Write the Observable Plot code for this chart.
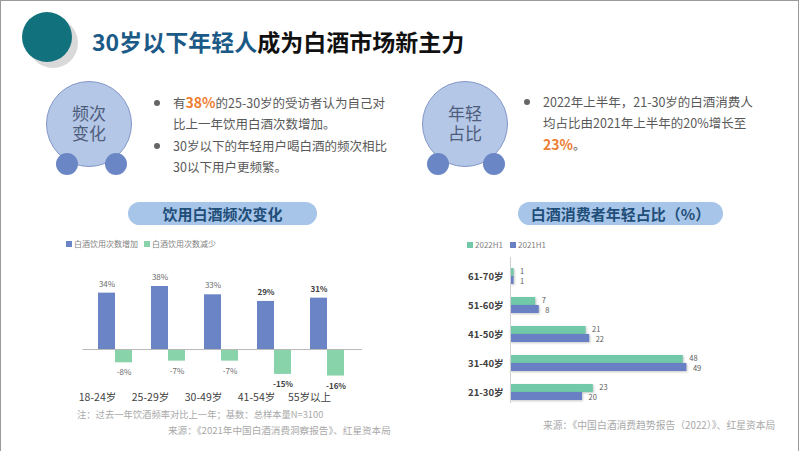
<!DOCTYPE html>
<html><head><meta charset="utf-8">
<script src="https://cdn.jsdelivr.net/npm/d3@7"></script>
<script src="https://cdn.jsdelivr.net/npm/@observablehq/plot@0.6"></script>
<style>
body{margin:0;background:#fff;font-family:"Noto Sans CJK SC","Noto Sans",sans-serif;}
#slide{position:relative;width:802px;height:451px;overflow:hidden;background:#fff;}
.abs{position:absolute;}
.frame{left:0;top:0;width:799px;height:460px;border:1px solid #9a9a9a;box-sizing:border-box;}
.circ{position:absolute;border-radius:50%;}
.big{width:86px;height:86px;background:#b4c7e7;border:1px solid #8296c8;box-sizing:border-box;}
.small{width:22px;height:22px;background:#6a86c4;}
.ctext{position:absolute;width:86px;text-align:center;font-size:17px;line-height:18px;height:18px;color:#4f5d7c;}
.dot{position:absolute;width:6px;height:6px;border-radius:50%;background:#666;}
.para{position:absolute;font-size:12.5px;line-height:21.3px;color:#595959;white-space:nowrap;}
.hl{color:#ed7d31;font-weight:bold;}
.pill{position:absolute;height:23px;border-radius:12px;background:#a6c5e8;color:#1f4e79;font-weight:bold;font-size:15px;line-height:23px;text-align:center;}
.leg{position:absolute;font-size:8px;line-height:10px;color:#7f7f7f;white-space:nowrap;}
.sq{display:inline-block;width:6px;height:6px;margin-right:2px;vertical-align:0px;}
.note{position:absolute;font-size:9.3px;line-height:12px;color:#a9a9a9;white-space:nowrap;}
.chart svg{overflow:visible;}
#c2 rect{filter:drop-shadow(1px 1px 0.8px rgba(0,0,0,0.22));}
</style></head>
<body><div id="slide">
<div class="abs frame"></div>
<div class="circ" style="left:28px;top:18px;width:50px;height:50px;background:#d9d9d9;"></div>
<div class="circ" style="left:22px;top:12px;width:50px;height:50px;background:#11717c;"></div>
<div class="abs" style="left:92px;top:24px;font-size:23px;line-height:34px;font-weight:bold;white-space:nowrap;"><span style="color:#1b5a87">30岁以下年轻人</span><span style="color:#111">成为白酒市场新主力</span></div>

<div class="circ big" style="left:46px;top:81px;"></div>
<div class="circ small" style="left:56px;top:153px;"></div>
<div class="circ small" style="left:105px;top:153px;"></div>
<div class="ctext" style="left:46px;top:104px;">频次</div>
<div class="ctext" style="left:46px;top:124px;">变化</div>
<div class="dot" style="left:154px;top:100px;"></div>
<div class="dot" style="left:154px;top:143px;"></div>
<div class="para" style="left:173px;top:92px;">有<span class="hl" style="font-size:14px">38%</span>的25-30岁的受访者认为自己对<br>比上一年饮用白酒次数增加。<br>30岁以下的年轻用户喝白酒的频次相比<br>30以下用户更频繁。</div>

<div class="circ big" style="left:422px;top:81px;"></div>
<div class="circ small" style="left:427px;top:153px;"></div>
<div class="circ small" style="left:483px;top:153px;"></div>
<div class="ctext" style="left:422px;top:104px;">年轻</div>
<div class="ctext" style="left:422px;top:124px;">占比</div>
<div class="dot" style="left:524px;top:99px;"></div>
<div class="para" style="left:543px;top:91px;">2022年上半年，21-30岁的白酒消费人<br>均占比由2021年上半年的20%增长至<br><span class="hl" style="font-size:14px">23%</span>。</div>

<div class="pill" style="left:128px;top:202px;width:189px;">饮用白酒频次变化</div>
<div class="pill" style="left:518px;top:202px;width:205px;">白酒消费者年轻占比（%）</div>

<div class="leg" id="leg1" style="left:66px;top:239px;"></div>
<div class="leg" id="leg2" style="left:467px;top:240px;"></div>

<div class="abs chart" id="c1" style="left:60px;top:262px;"></div>
<div class="abs chart" id="c2" style="left:450px;top:245px;"></div>

<div class="note" style="left:77px;top:408px;">注：过去一年饮酒频率对比上一年；基数：总样本量N=3100</div>
<div class="note" style="left:168px;top:424px;font-size:9.6px;">来源：《2021年中国白酒消费洞察报告》、红星资本局</div>
<div class="note" style="left:543px;top:419px;font-size:9.8px;">来源：《中国白酒消费趋势报告（2022）》、红星资本局</div>
</div>
<script>
const freqCats = ["18-24岁","25-29岁","30-49岁","41-54岁","55岁以上"];
const freqUp = [34,38,33,29,31];
const freqDown = [-8,-7,-7,-15,-16];
const freqSeries = ["白酒饮用次数增加","白酒饮用次数减少"];

const ageCats = ["61-70岁","51-60岁","41-50岁","31-40岁","21-30岁"];
const share2022 = [1,7,21,48,23];
const share2021 = [1,8,22,49,20];
const shareSeries = ["2022H1","2021H1"];

const FONT = '"Noto Sans CJK SC","Noto Sans",sans-serif';
const blue1 = "#6a84c6", green1 = "#89d3aa";
const blue2 = "#6a80c5", green2 = "#72c9a9";

document.getElementById("leg1").innerHTML =
  `<span class="sq" style="background:${blue1}"></span>${freqSeries[0]}<span style="display:inline-block;width:6px"></span><span class="sq" style="background:${green1}"></span>${freqSeries[1]}`;
document.getElementById("leg2").innerHTML =
  `<span class="sq" style="background:${green2}"></span>${shareSeries[0]}<span style="display:inline-block;width:7px"></span><span class="sq" style="background:${blue2}"></span>${shareSeries[1]}`;

const freqRows = freqCats.map((c,i)=>({cat:c, up:freqUp[i], down:freqDown[i], i}));
const lightRows = freqRows.filter(d=>d.i<3), boldRows = freqRows.filter(d=>d.i>=3);

const chart1 = Plot.plot({
  width:320, height:145,
  marginLeft:18.4, marginRight:17, marginTop:20.7, marginBottom:24.8,
  x:{type:"band", domain:freqCats, padding:0.36, axis:null},
  y:{domain:[-20,40], axis:null},
  style:{fontFamily:FONT, background:"transparent"},
  marks:[
    Plot.barY(freqRows,{x:"cat", y1:0, y2:"up", fill:blue1, insetRight:17}),
    Plot.barY(freqRows,{x:"cat", y1:0, y2:"down", fill:green1, insetLeft:17}),
    Plot.ruleY([0],{stroke:"#b8b8b8", insetLeft:4, insetRight:1}),
    Plot.text(lightRows,{x:"cat", y:"up", text:d=>d.up+"%", dx:-8.5, dy:-9, fontSize:8, fill:"#6b6b6b"}),
    Plot.text(lightRows,{x:"cat", y:"down", text:d=>d.down+"%", dx:8.5, dy:10, fontSize:8, fill:"#6b6b6b"}),
    Plot.text(boldRows,{x:"cat", y:"up", text:d=>d.up+"%", dx:-8.5, dy:-9, fontSize:8, fontWeight:"bold", fill:"#404040"}),
    Plot.text(boldRows,{x:"cat", y:"down", text:d=>d.down+"%", dx:8.5, dy:10, fontSize:8, fontWeight:"bold", fill:"#404040"}),
    Plot.text(freqCats,{x:d=>d, frameAnchor:"bottom", dy:18, dx:-18, fontSize:10.5, fill:"#3f3f3f"})
  ]
});
document.getElementById("c1").appendChild(chart1);

const shareRows = ageCats.map((c,i)=>({cat:c, a:share2022[i], b:share2021[i]}));
const chart2 = Plot.plot({
  width:300, height:175,
  marginLeft:60, marginRight:42, marginTop:8.4, marginBottom:5.6,
  x:{domain:[0,55], axis:null},
  y:{type:"band", domain:ageCats, padding:0.46, axis:null},
  style:{fontFamily:FONT, background:"transparent"},
  marks:[
    Plot.barX(shareRows,{y:"cat", x1:0, x2:"a", fill:green2, insetBottom:7.95}),
    Plot.barX(shareRows,{y:"cat", x1:0, x2:"b", fill:blue2, insetTop:7.95}),
    Plot.ruleX([0],{stroke:"#d0d0d0", insetTop:3.6, insetBottom:11.4}),
    Plot.text(shareRows,{y:"cat", x:"a", text:d=>String(d.a), dx:6, dy:-4.6, textAnchor:"start", fontSize:7.5, fill:"#595959"}),
    Plot.text(shareRows,{y:"cat", x:"b", text:d=>String(d.b), dx:6, dy:4.6, textAnchor:"start", fontSize:7.5, fill:"#595959"}),
    Plot.text(ageCats,{y:d=>d, frameAnchor:"left", dx:-7, textAnchor:"end", fontSize:9.5, fontWeight:"bold", fill:"#404040"})
  ]
});
document.getElementById("c2").appendChild(chart2);
</script>
</body></html>
